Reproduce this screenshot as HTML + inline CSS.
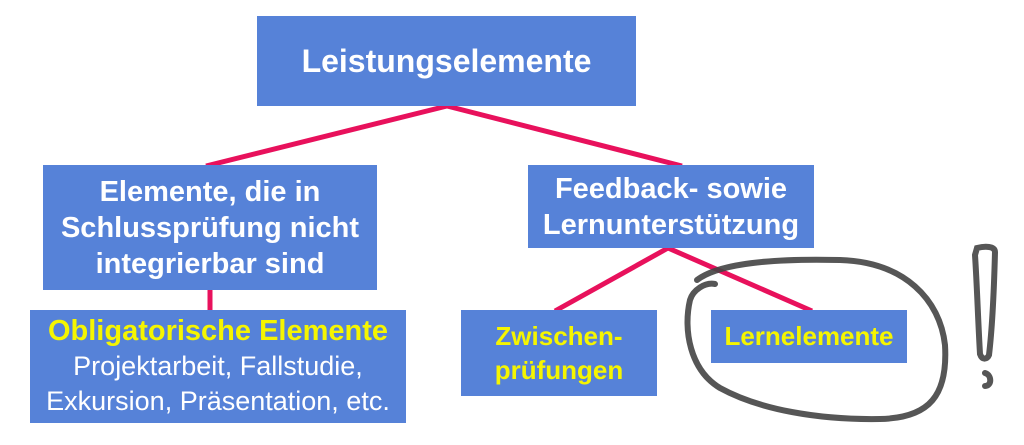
<!DOCTYPE html>
<html><head><meta charset="utf-8"><style>
body{margin:0;width:1024px;height:445px;background:#fff;position:relative;overflow:hidden;font-family:"Liberation Sans",sans-serif;font-weight:bold}
.b{position:absolute;background:#5682d8;color:#fff;display:flex;flex-direction:column;align-items:center;justify-content:center;text-align:center;box-sizing:border-box;white-space:nowrap}
.y{color:#f5f500}
</style></head><body>
<svg width="1024" height="445" style="position:absolute;left:0;top:0">
<g stroke="#e8115c" stroke-width="5" fill="none">
<line x1="447" y1="106" x2="206" y2="166"/>
<line x1="447" y1="106" x2="682" y2="166"/>
<line x1="210" y1="290" x2="210" y2="311"/>
<line x1="668" y1="248" x2="555" y2="311"/>
<line x1="668" y1="248" x2="812" y2="311"/>
</g>
</svg>
<div class="b" style="left:257px;top:16px;width:379px;height:90px;font-size:32px">Leistungselemente</div>
<div class="b" style="left:43px;top:165px;width:334px;height:125px;font-size:29px;line-height:36px">Elemente, die in<br>Schlussprüfung nicht<br>integrierbar sind</div>
<div class="b" style="left:30px;top:310px;width:376px;height:113px;line-height:35px"><span class="y" style="font-size:29px">Obligatorische Elemente</span><span style="font-weight:normal;font-size:27px;line-height:35px">Projektarbeit, Fallstudie,<br>Exkursion, Präsentation, etc.</span></div>
<div class="b" style="left:528px;top:165px;width:286px;height:83px;font-size:29px;line-height:36px">Feedback- sowie<br>Lernunterstützung</div>
<div class="b y" style="left:461px;top:310px;width:196px;height:86px;font-size:26px;line-height:34px">Zwischen-<br>prüfungen</div>
<div class="b y" style="left:711px;top:310px;width:196px;height:53px;font-size:26px">Lernelemente</div>
<svg width="1024" height="445" style="position:absolute;left:0;top:0">
<g stroke="#444" stroke-width="6" fill="none" stroke-linecap="round" opacity="0.9">
<path d="M697 280 C715 266 760 258 840 260 C905 262 940 300 945 345 C948 395 930 418 880 419 C820 420 760 410 720 388 C690 370 683 330 690 300 C693 290 705 282 715 284"/>
<path d="M977 248 C985 246 995 246 995 252 C994 290 992 330 989 355 C987 360 982 360 980 354 C978 320 977 285 975 255 Z"/>
<path d="M985 373 C992 375 992 386 985 386"/>
</g>
</svg>
</body></html>
